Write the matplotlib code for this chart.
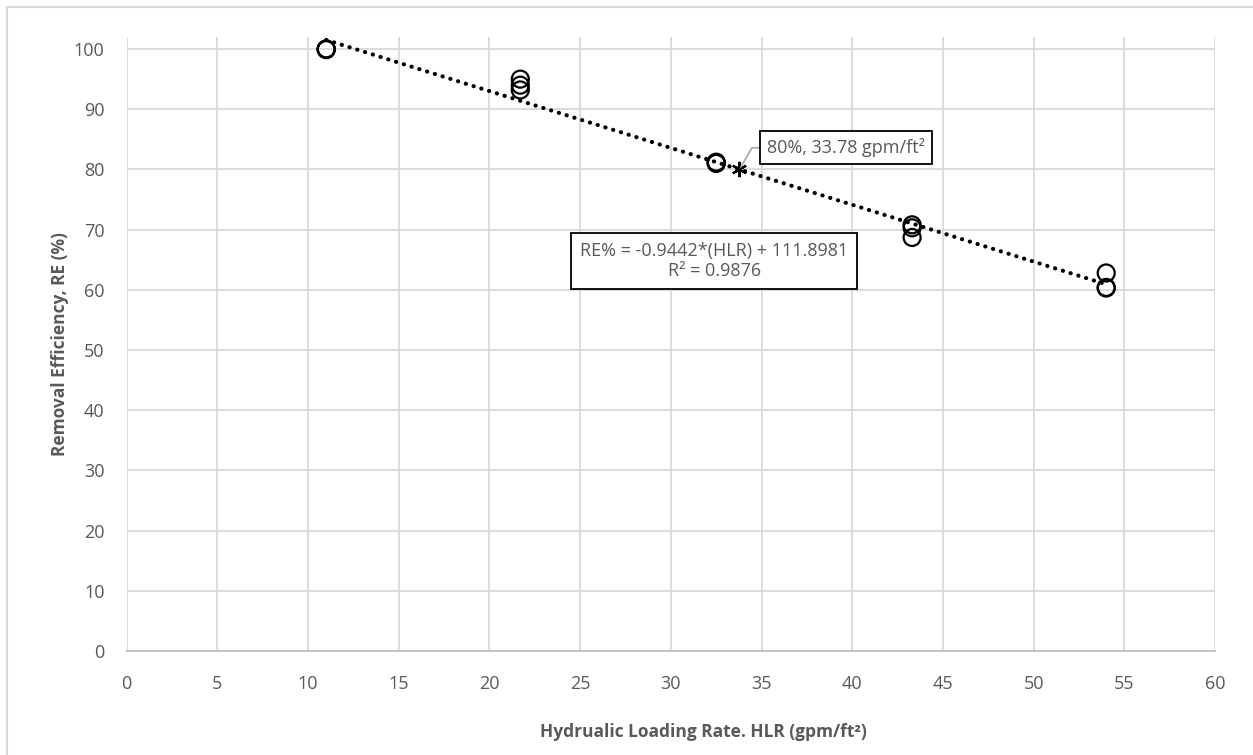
import numpy as np
import matplotlib
matplotlib.use('Agg')
import matplotlib.pyplot as plt
from matplotlib.patches import Rectangle

plt.rcParams['font.family'] = ['Open Sans', 'DejaVu Sans']

# Data
hlr = [11.0, 11.0, 11.0,
       21.7, 21.7, 21.7,
       32.5, 32.5, 32.5,
       43.3, 43.3, 43.3,
       54.0, 54.0, 54.0]
re_pct = [100.0, 100.0, 99.9,
          95.0, 94.0, 93.2,
          81.1, 81.0, 81.2,
          70.8, 70.3, 68.7,
          62.8, 60.4, 60.3]

slope = -0.9442
intercept = 111.8981
trend_x = [11.0, 54.0]
target_x = 33.78
target_y = 80

xticks = list(range(0, 61, 5))
yticks = list(range(0, 101, 10))

grey = '#595959'
grid = '#D9D9D9'

fig = plt.figure(figsize=(12.53, 7.55), dpi=100)
ax = fig.add_axes([0.1011, 0.1377, 0.8686, 0.8133])

# outer chart frame (only left and top edges fall inside the image)
fig.patches.append(Rectangle((7/1253, -10/755), 1260/1253, 758/755, transform=fig.transFigure,
                             fill=False, edgecolor=grid, lw=1.5))

# trendline
tx = np.array(trend_x)
ax.plot(tx, slope*tx + intercept, color='black', lw=3,
        linestyle=(0, (0.05, 1.9)), dash_capstyle='round', zorder=3)

ax.scatter(hlr, re_pct, s=150, facecolors='none', edgecolors='black', linewidths=1.6, zorder=4)
ax.plot([target_x], [target_y], marker=(6, 2, 0), markersize=11, color='black', mew=1.6, zorder=5)

ax.set_xlim(0, 60)
ax.set_ylim(0, 102)
ax.set_xticks(xticks)
ax.set_yticks(yticks)
ax.grid(True, color=grid, lw=1.3)
ax.set_axisbelow(True)
for side in ['top', 'right', 'left']:
    ax.spines[side].set_visible(False)
ax.spines['bottom'].set_color('#BFBFBF')
ax.spines['bottom'].set_linewidth(1.3)
ax.tick_params(length=0, labelsize=13, labelcolor=grey)
ax.tick_params(axis='x', pad=17)
ax.tick_params(axis='y', pad=16)

ax.set_xlabel('Hydrualic Loading Rate. HLR (gpm/ft²)', fontsize=12.5, fontweight='bold', color=grey)
ax.xaxis.set_label_coords(0.53, -0.117)
ax.set_ylabel('Removal Efficiency, RE (%)', fontsize=12.5, fontweight='bold', color=grey)
ax.yaxis.set_label_coords(-0.053, 0.5)

# equation box
ax.text(32.4, 64.8, 'RE% = -0.9442*(HLR) + 111.8981\nR² = 0.9876', ha='center', va='center',
        fontsize=13, color=grey, linespacing=1.15,
        bbox=dict(boxstyle='square,pad=0.5', fc='white', ec='black', lw=1.3), zorder=6)

# point label
ax.annotate('80%, 33.78 gpm/ft²', xy=(target_x, target_y), xytext=(35.3, 83.6),
            ha='left', va='center', fontsize=13, color=grey,
            bbox=dict(boxstyle='square,pad=0.4', fc='white', ec='black', lw=1.3),
            arrowprops=dict(arrowstyle='-', color='#A6A6A6', lw=1.2,
                            connectionstyle='angle,angleA=0,angleB=60,rad=0',
                            shrinkA=0, shrinkB=2), zorder=6)

fig.savefig('out.png', dpi=100)
